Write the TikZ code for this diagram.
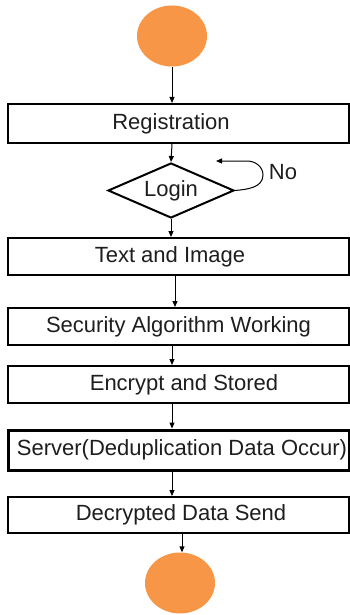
\documentclass[tikz,border=0pt]{standalone}
\usepackage{fontspec}
\setmainfont{Liberation Sans}
\usetikzlibrary{shapes.geometric,arrows.meta,calc}
\definecolor{termfill}{HTML}{F79646}
\definecolor{inkgray}{HTML}{1E1E1E}
\tikzset{
  terminal/.style={ellipse, fill=termfill, draw=none, minimum width=70pt, minimum height=61pt, inner sep=0pt},
  stepbox/.style={rectangle, draw=black, line width=2pt, minimum width=341pt, minimum height=38pt, inner sep=0pt, font=\fontsize{22pt}{24pt}\selectfont, text=inkgray},
  decision/.style={diamond, draw=black, line width=2pt, aspect=2.3, minimum width=126pt, minimum height=55pt, inner sep=0pt, font=\fontsize{22pt}{24pt}\selectfont, text=inkgray},
  arr/.style={line width=1pt, -{Triangle[length=6pt,width=5pt]}},
  lbl/.style={font=\fontsize{22pt}{24pt}\selectfont, text=inkgray, inner sep=0pt}
}
\begin{document}
\begin{tikzpicture}[x=1pt,y=-1pt]
  \useasboundingbox (0,0) rectangle (350,615);
  \fill[white] (0,0) rectangle (350,615);

  % terminals and process steps
  \node[terminal] (start) at (172,36) {};
  \node[stepbox, minimum height=39pt] (reg) at (178.5,123.5) {\hspace*{-15pt}Registration};
  \node[decision] (login) at (171,190.5) {Login};
  \node[stepbox, minimum height=37pt] (txt) at (178.5,256.5) {\hspace*{-17pt}Text and Image};
  \node[stepbox, minimum height=37pt] (sec) at (178.5,326.5) {Security Algorithm Working};
  \node[stepbox, minimum height=37pt] (enc) at (178.5,384.5) {\hspace*{11pt}Encrypt and Stored};
  \node[stepbox, minimum height=40pt, line width=3pt] (srv) at (178.5,450) {\hspace*{7pt}Server(Deduplication Data Occur)};
  \node[stepbox, minimum height=36pt] (dec) at (178.5,515) {\hspace*{5pt}Decrypted Data Send};
  \node[terminal] (stop) at (180,583) {};

  % "No" loop back into the login check
  \coordinate (loopend) at (216,161);
  \node[lbl] (no) at (283,172) {No};
  \draw[arr] (login.east) to[out=5,in=-90] (263,175) to[out=90,in=0] (247,161) -- (loopend);

  % main flow
  \draw[arr] (start.south) -- (start.south |- reg.north);
  \draw[arr] (reg.south -| start) -- (login.north);
  \draw[arr] (login.south) -- (login.south |- txt.north);
  \draw[arr] ([xshift=3pt]txt.south -| start) -- ([xshift=3pt]sec.north -| start);
  \draw[arr] (sec.south -| start) -- (enc.north -| start);
  \draw[arr] (enc.south -| start) -- (srv.north -| start);
  \draw[arr] (srv.south -| start) -- (dec.north -| start);
  \draw[arr] ([xshift=2pt]dec.south -| stop) -- ([xshift=2pt]stop.north);
\end{tikzpicture}
\end{document}
